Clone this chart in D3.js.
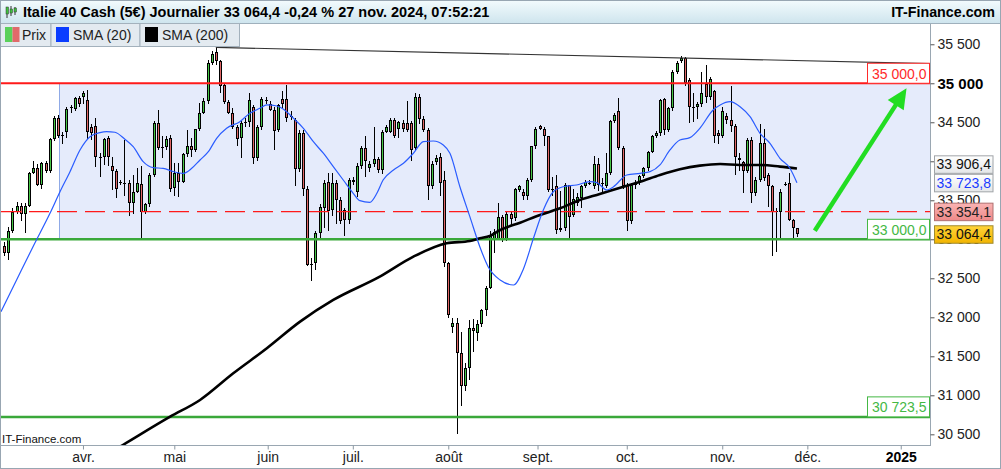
<!DOCTYPE html>
<html><head><meta charset="utf-8">
<script src="https://cdn.jsdelivr.net/npm/d3@7"></script>
<style>
html,body{margin:0;padding:0;background:#fff;}
svg{display:block;font-family:"Liberation Sans",Arial,sans-serif;}
</style></head><body>
<svg id="c" width="1001" height="469"></svg>
<script>
// ---------------- DATA ----------------
const startDate = '2024-03-05'; // first candle (weekday slots)
const opens = [
32920,32830,33100,33350,33430,33320,33430,33850,33910,33690,
33980,33870,34290,34560,34330,34370,34680,34670,34810,34830,
34780,34440,34450,34060,34050,34300,33940,33870,33730,33720,
33720,33460,33610,33710,33350,33450,33830,34490,34180,34180,
34300,33660,33850,33740,34090,34200,34140,34410,34620,34770,
35260,35400,35290,34980,34760,34620,34440,34300,34490,34500,
34700,34040,34440,34790,34730,34660,34400,34800,34800,34580,
34530,33900,34360,33640,32670,32700,33080,33400,33740,33380,
33720,33500,33370,33250,33740,33600,33940,34170,33910,33970,
34030,33890,34380,34380,34530,34410,34490,34490,34490,34170,
34830,34540,34400,33680,33990,34050,33760,32690,31880,31930,
31540,31120,31350,31860,31800,31920,32090,32380,33000,33000,
33290,33000,33330,33270,33630,33610,33550,33760,34190,34450,
34420,34320,33650,33680,33140,33140,33690,33310,33460,33530,
33680,33720,33680,33970,33720,33680,33850,34510,34640,34170,
33690,33230,33700,33720,33810,33910,34120,34320,34360,34800,
34400,34680,35150,35280,35320,35040,34700,34690,34740,34990,
34820,34900,34360,34320,34580,34530,34450,34040,33990,33880,
34270,33590,33760,34230,33820,33680,33360,33350,33700,33720,
33250,33140];
const highs = [
32970,33160,33400,33480,33470,33460,33860,34000,33960,33990,
34000,34300,34580,34590,34380,34700,34720,34830,34840,34900,
34920,34480,34550,34100,34300,34320,34060,33900,33760,34270,
33760,33830,33910,33940,33460,33850,34510,34660,34320,34330,
34340,33980,33980,34100,34400,34300,34420,34750,34810,35300,
35410,35460,35300,35000,34790,34680,34460,34510,34560,34870,
34720,34460,34830,34830,34770,34700,34740,34900,34980,34640,
34560,34400,34400,33680,32760,33100,33450,33760,33850,33850,
33760,33540,33400,33790,33800,33980,34200,34320,34000,34440,
34060,34400,34470,34560,34560,34520,34530,34770,34520,34870,
34860,34580,34430,34000,34080,34100,33880,32710,31990,31990,
31810,31410,31960,31980,31960,32110,32400,33100,33130,33460,
33310,33350,33360,33660,33700,33640,33780,34200,34440,34470,
34440,34330,33800,33820,33620,33720,33700,33640,33590,33690,
33760,33760,34070,34040,33790,34100,34530,34620,34810,34190,
33720,33720,33760,33830,33930,34130,34340,34390,34800,34810,
34700,35170,35290,35350,35340,35070,34870,34760,35150,35240,
35080,34920,34400,34690,34620,34960,34480,34100,34010,34300,
34310,33800,34480,34410,33850,33700,33400,33640,33740,33850,
33260,33150];
const lows = [
32780,32740,33080,33320,33240,33080,33420,33840,33680,33650,
33850,33850,34260,34300,34220,34300,34620,34650,34700,34740,
34290,34270,33930,33800,33950,33940,33630,33530,33690,33550,
33300,33330,33590,33000,33330,33420,33800,34150,34040,34150,
33600,33560,33540,33720,34060,34050,34120,34390,34600,34740,
35240,35230,34880,34740,34600,34420,34190,34040,34440,34440,
33970,34000,34400,34740,34640,34150,34380,34680,34500,34530,
33680,33860,33550,32660,32460,32600,33020,33150,33100,33300,
33200,33200,33040,33200,33700,33540,33900,33800,33860,33930,
33850,33840,34360,34360,34300,34300,34380,34380,34000,34150,
34480,34380,33500,33640,33950,33550,32650,31990,31800,30510,
30860,31050,31200,31560,31700,31880,32020,32360,32820,32990,
32960,32980,33180,33230,33600,33500,33500,33740,34160,34400,
34200,33600,33550,33070,33090,33100,32990,33280,33430,33400,
33660,33700,33650,33620,33600,33660,33830,34490,34150,33650,
33110,33200,33650,33700,33790,33880,34100,34300,34330,34340,
34380,34650,35120,35260,34970,34490,34500,34540,34700,34750,
34790,34240,34220,34300,34480,34380,33830,33880,33590,33850,
33460,33560,33740,33750,33420,32780,32840,33000,33680,33230,
33000,33030];
const closes = [
32830,33110,33350,33430,33320,33430,33850,33910,33690,33980,
33870,34290,34560,34320,34340,34670,34690,34810,34740,34880,
34380,34360,34050,34050,34290,34050,33870,33650,33720,33710,
33460,33610,33720,33350,33450,33830,34490,34170,34170,34280,
33650,33850,33740,34090,34200,34140,34410,34620,34770,35260,
35380,35290,34970,34760,34620,34440,34280,34490,34500,34790,
34040,34440,34800,34770,34660,34390,34720,34730,34560,34570,
33900,34360,33640,32670,32680,33080,33420,33720,33360,33720,
33500,33230,33250,33760,33760,33940,34170,34000,33970,34030,
33890,34380,34440,34530,34330,34500,34410,34400,34150,34830,
34540,34400,33680,33970,34040,33720,32690,32030,31930,31540,
31120,31350,31860,31820,31920,32090,32380,33060,33090,33290,
33000,33330,33260,33640,33680,33550,33760,34190,34420,34420,
34320,33630,33630,33120,33120,33690,33290,33520,33540,33680,
33740,33720,33970,33700,33720,33850,34510,34590,34170,33680,
33230,33690,33720,33810,33910,34120,34320,34360,34790,34400,
34680,35150,35260,35320,35000,34700,34690,34730,34880,34820,
35050,34320,34320,34640,34530,34450,34060,34020,33880,34270,
33590,33760,34230,33790,33680,33350,33350,33610,33710,33250,
33144,33064.4];

// SMA lines (slot position, value)
const sma20Slots  = [-0.75,3,6.96,11.05,13.46,15.87,18.28,20.69,23.1,24.7,26.7,29.1,31.1,33.5,35.9,38.3,40.8,43.2,45.2,47.2,49.2,51.2,53.6,56.8,59.2,61.6,63.3,65.7,67.3,69.7,72.1,74.5,76.9,79.3,81.7,84.1,85.7,88.1,89.8,91.3,93.8,96.2,98.6,101,103.4,105.8,107.4,109.8,112.2,114.6,116.6,119.5,122.7,125.1,127.5,129.9,132.3,134.7,137.9,141.1,142.8,145.2,146.8,150,153.2,155.6,158,160.4,162.8,165.2,167.6,170.8,172.5,174.9,177.3,179.7,182.1,184.5,186.9,189.3,191];
const sma20Values = [32072,32478,32905,33333,33610,33867,34145,34315,34367,34379,34372,34282,34187,33995,33918,33910,33867,33846,33910,34017,34123,34295,34423,34508,34615,34679,34722,34709,34667,34551,34423,34251,34103,33931,33760,33590,33495,33474,33590,33760,33888,33974,34103,34251,34260,34209,34103,33674,33290,32905,32649,32478,32414,32620,33010,33376,33610,33674,33696,33738,33726,33632,33674,33824,33846,33867,33953,34145,34273,34303,34423,34658,34722,34764,34700,34572,34359,34231,34038,33910,33723.8];
const sma200Slots  = [22,28.6,40,47.2,55.2,63.3,71.3,79.3,90.5,98.6,106.6,112.2,114.6,117,119.5,124.3,129.1,133.9,138.7,143.5,148.4,153.2,158,162.8,167.6,172.5,177.3,182.1,186.9,191];
const sma200Values = [30153,30363,30726,30940,31282,31603,31944,32222,32521,32777,32949,32978,33013,33042,33119,33213,33312,33397,33504,33581,33662,33738,33824,33897,33944,33965,33953,33953,33931,33906.4];

// Horizontal levels
const resistance = 35000.0, support = 33000.0, support2 = 30723.5, pivot = 33354.1;
// Trendline anchors (slot, price)
const trendSlots = [51, 163], trendValues = [35460, 35325];
// Zone start slot
const zoneStartSlot = 13.3;
// Arrow (slot, price)
const arrowFrom = [195.3, 33110], arrowTo = [217.4, 34936];

const yTicks = [30500,31000,31500,32000,32500,33000,33500,34000,34500,35000,35500];
const monthTickDates = ['2024-04-01','2024-05-01','2024-06-01','2024-07-01','2024-08-01','2024-09-01','2024-10-01','2024-11-01','2024-12-01','2025-01-01'];
const monthLabels = ['avr.','mai','juin','juil.','août','sept.','oct.','nov.','déc.','2025'];

const titleText = 'Italie 40 Cash (5€) Journalier 33 064,4 -0,24 % 27 nov. 2024, 07:52:21';
const lastPrice = 33064.4, sma20Last = 33723.8, sma200Last = 33906.4;

// ---------------- HELPERS ----------------
function slotOf(dstr){
  const d = new Date(dstr+'T00:00:00Z');
  const s = new Date(startDate+'T00:00:00Z');
  let n = 0;
  while (s < d){ const wd = s.getUTCDay(); if (wd!==0 && wd!==6) n++; s.setUTCDate(s.getUTCDate()+1); }
  const wd = d.getUTCDay();
  if (wd===0 || wd===6) n -= 0.5;
  return n;
}
function fmtInt(v){ return d3.format(',.0f')(v).replace(/,/g,' '); }
function fmt1(v){ const s = d3.format(',.1f')(v); return s.replace(/,/g,' ').replace('.',','); }

// ---------------- LAYOUT ----------------
const W=1001, H=469;
const pL=1, pR=930, pT=24, pB=445;
const x = d3.scaleLinear().domain([-0.75, 223.05]).range([pL, pR]);
const y = d3.scaleLinear().domain([30363, 35465]).range([pB, 47]);

const svg = d3.select('#c');
const defs = svg.append('defs');
defs.append('clipPath').attr('id','clip').append('rect').attr('x',pL).attr('y',pT).attr('width',pR-pL).attr('height',pB-pT);
function grad(id, c1, c2){
  const g = defs.append('linearGradient').attr('id',id).attr('x1',0).attr('y1',0).attr('x2',0).attr('y2',1);
  g.append('stop').attr('offset','0%').attr('stop-color',c1);
  g.append('stop').attr('offset','100%').attr('stop-color',c2);
}
grad('gTitle','#f3fbfd','#cfe5ee');
grad('gGray','#ffffff','#e4e6e8');
grad('gRed','#f9b4b4','#ee8888');
grad('gYel','#ffd43a','#f2b400');

svg.append('rect').attr('width',W).attr('height',H).attr('fill','#fff');

const plot = svg.append('g').attr('clip-path','url(#clip)');

// zone
plot.append('rect')
  .attr('x', x(zoneStartSlot)).attr('y', y(resistance))
  .attr('width', pR - x(zoneStartSlot)).attr('height', y(support)-y(resistance))
  .attr('fill','#e5ebfb');
plot.append('line').attr('x1',Math.round(x(zoneStartSlot))+0.5).attr('x2',Math.round(x(zoneStartSlot))+0.5)
  .attr('y1',y(resistance)).attr('y2',y(support)).attr('stroke','#8fa9e6').attr('stroke-width',1);

// candles
const cg = plot.append('g');
closes.forEach((c,i)=>{
  const o = opens[i], h = Math.max(highs[i],o,c), l = Math.min(lows[i],o,c);
  const cx = Math.round(x(i));
  cg.append('line').attr('x1',cx+0.5).attr('x2',cx+0.5).attr('y1',Math.round(y(h))).attr('y2',Math.round(y(l)))
    .attr('stroke','#000').attr('stroke-width',1);
  let top = Math.round(y(Math.max(o,c))), bot = Math.round(y(Math.min(o,c)));
  if (bot-top < 1) bot = top+1;
  cg.append('rect').attr('x',cx-1).attr('y',top).attr('width',3).attr('height',bot-top).attr('fill','#000');
  if (bot-top > 2){
    cg.append('rect').attr('x',cx).attr('y',top+1).attr('width',1).attr('height',bot-top-2)
      .attr('fill', c>=o ? '#46c646' : '#e06666');
  }
});

// horizontal levels
plot.append('line').attr('x1',pL).attr('x2',pR).attr('y1',y(resistance)).attr('y2',y(resistance)).attr('stroke','#ff1a1a').attr('stroke-width',2);
plot.append('line').attr('x1',pL).attr('x2',pR).attr('y1',y(support)).attr('y2',y(support)).attr('stroke','#3aa83a').attr('stroke-width',2.5);
plot.append('line').attr('x1',pL).attr('x2',pR).attr('y1',y(support2)).attr('y2',y(support2)).attr('stroke','#3aa83a').attr('stroke-width',2.5);
plot.append('line').attr('x1',pL).attr('x2',pR).attr('y1',y(pivot)).attr('y2',y(pivot)).attr('stroke','#ff1a1a').attr('stroke-width',1.3).attr('stroke-dasharray','20,8');

// SMA lines
const line = d3.line().x(d=>x(d[0])).y(d=>y(d[1])).curve(d3.curveMonotoneX);
plot.append('path').attr('d', line(sma200Slots.map((s,i)=>[s,sma200Values[i]])))
  .attr('fill','none').attr('stroke','#000').attr('stroke-width',2.6);
plot.append('path').attr('d', line(sma20Slots.map((s,i)=>[s,sma20Values[i]])))
  .attr('fill','none').attr('stroke','#2a5cff').attr('stroke-width',1.2);

// trendline
const tSlope = (trendValues[1]-trendValues[0])/(trendSlots[1]-trendSlots[0]);
const tEnd = x.domain()[1];
plot.append('line').attr('x1',x(trendSlots[0])).attr('y1',y(trendValues[0]))
  .attr('x2',x(tEnd)).attr('y2',y(trendValues[0]+tSlope*(tEnd-trendSlots[0])))
  .attr('stroke','#333').attr('stroke-width',1.2);

// level label boxes inside plot
function levelBox(v, color){
  const bx = 867.5, bw = 62, bh = 20, by = y(v) - bh;
  svg.append('rect').attr('x',bx).attr('y',by).attr('width',bw).attr('height',bh).attr('fill','#fff').attr('stroke',color).attr('stroke-width',1);
  svg.append('text').attr('x',bx+bw-3).attr('y',by+bh-4.5).attr('text-anchor','end').attr('font-size',14)
    .attr('fill',color).text(fmt1(v));
}
levelBox(resistance,'#ff2a2a');
levelBox(support,'#44b844');
levelBox(support2,'#44b844');

// arrow
{
  const x0=x(arrowFrom[0]), y0=y(arrowFrom[1]), x1=x(arrowTo[0]), y1=y(arrowTo[1]);
  const dx=x1-x0, dy=y1-y0, L=Math.hypot(dx,dy), ux=dx/L, uy=dy/L, px=-uy, py=ux;
  const hl=20, hw=9.5;
  const bx=x1-ux*hl, by=y1-uy*hl;
  svg.append('line').attr('x1',x0).attr('y1',y0).attr('x2',bx+ux*2).attr('y2',by+uy*2).attr('stroke','#22dd22').attr('stroke-width',4.5);
  svg.append('path').attr('d',`M${x1},${y1}L${bx+px*hw},${by+py*hw}L${bx-px*hw},${by-py*hw}Z`).attr('fill','#22dd22');
}

// frame & axes lines
svg.append('line').attr('x1',0).attr('x2',pR).attr('y1',pB+0.5).attr('y2',pB+0.5).attr('stroke','#9aa7b2');
svg.append('line').attr('x1',pR+0.5).attr('x2',pR+0.5).attr('y1',23).attr('y2',pB+1).attr('stroke','#9aa7b2');

// y axis
const yAxis = svg.append('g').attr('transform',`translate(${pR+0.5},0)`)
  .call(d3.axisRight(y).tickValues(yTicks).tickSize(4).tickPadding(3).tickFormat(fmtInt));
yAxis.select('.domain').remove();
yAxis.selectAll('.tick line').attr('stroke','#555');
yAxis.selectAll('.tick text').attr('font-size',14).attr('fill','#222').attr('font-family','"Liberation Sans",Arial,sans-serif')
  .attr('font-weight', d => d===35000 ? 'bold':'normal').attr('font-size', d => d===35000 ? 15 : 14)
  .attr('fill', d=> d===35000 ? '#000' : '#222');

// x axis
const xAxis = svg.append('g').attr('transform',`translate(0,${pB+0.5})`)
  .call(d3.axisBottom(x).tickValues(monthTickDates.map(slotOf)).tickSize(4).tickPadding(3)
    .tickFormat((d,i)=>monthLabels[i]));
xAxis.select('.domain').remove();
xAxis.selectAll('.tick line').attr('stroke','#8a96a0');
xAxis.selectAll('.tick text').attr('font-size',14).attr('fill','#222').attr('font-family','"Liberation Sans",Arial,sans-serif')
  .attr('font-weight',(d,i)=> monthLabels[i]==='2025'?'bold':'normal').attr('fill',(d,i)=> monthLabels[i]==='2025'?'#000':'#222');

// right value boxes
{
  const items = [
    {v:sma200Last, fill:'url(#gGray)', stroke:'#a0a4a8', color:'#111'},
    {v:sma20Last, fill:'url(#gGray)', stroke:'#a0a4a8', color:'#1a3cff'},
    {v:pivot, fill:'url(#gRed)', stroke:'#b07070', color:'#222'},
    {v:lastPrice, fill:'url(#gYel)', stroke:'#a08a30', color:'#111'}
  ];
  items.forEach(d=> d.cy = y(d.v));
  // collision avoidance from bottom up
  for (let i=items.length-2;i>=0;i--){
    if (items[i+1].cy - items[i].cy < 18.5) items[i].cy = items[i+1].cy - 18.5;
  }
  items.forEach(d=>{
    svg.append('rect').attr('x',934.5).attr('y',d.cy-8.5).attr('width',58.5).attr('height',17.5)
      .attr('fill',d.fill).attr('stroke',d.stroke).attr('stroke-width',1);
    svg.append('text').attr('x',991).attr('y',d.cy+5).attr('text-anchor','end').attr('font-size',14).attr('fill',d.color).text(fmt1(d.v));
  });
}

// watermark
svg.append('text').attr('x',2).attr('y',443).attr('font-size',11.5).attr('fill','#111').text('IT-Finance.com');

// title bar
svg.append('rect').attr('x',0).attr('y',0).attr('width',W).attr('height',23).attr('fill','url(#gTitle)');
svg.append('line').attr('x1',0).attr('x2',W).attr('y1',23.5).attr('y2',23.5).attr('stroke','#9fb0bc');
// icon
[[6,9,16,'#3cc23c',7,13],[10,6,14,'#3cc23c',9,12],[14,7,13,'#3cc23c',8,11]].forEach(c=>{
  svg.append('line').attr('x1',c[0]+1).attr('x2',c[0]+1).attr('y1',c[1]).attr('y2',c[2]+2).attr('stroke','#333');
  svg.append('rect').attr('x',c[0]).attr('y',c[4]).attr('width',2.5).attr('height',c[5]-c[4]+1).attr('fill',c[3]).attr('stroke','#333').attr('stroke-width',0.5);
});
const tt = svg.append('text').attr('x',23).attr('y',17).attr('font-size',14).attr('font-weight','bold').attr('fill','#000').text(titleText);
{ const len = tt.node().getComputedTextLength(); tt.attr('font-size', 14*467/len); }
const it = svg.append('text').attr('x',995).attr('y',17).attr('text-anchor','end').attr('font-size',14).attr('font-weight','bold').attr('fill','#000').text('IT-Finance.com');
{ const len = it.node().getComputedTextLength(); it.attr('font-size', 14*104/len); }

// legend row
const leg = [
  {x0:0.5, x1:51, label:'Prix', tx:22},
  {x0:51, x1:140, label:'SMA (20)', tx:73},
  {x0:140, x1:239.5, label:'SMA (200)', tx:162}
];
leg.forEach(l=>{
  svg.append('rect').attr('x',l.x0).attr('y',23.5).attr('width',l.x1-l.x0).attr('height',23).attr('fill','#e3eaf0').attr('stroke','#a3b1bc');
  svg.append('text').attr('x',l.tx).attr('y',40).attr('font-size',14).attr('fill','#222').text(l.label);
});
svg.append('rect').attr('x',5).attr('y',27).attr('width',7.5).attr('height',15).attr('fill','#5ad05a');
svg.append('rect').attr('x',12.5).attr('y',27).attr('width',7).attr('height',15).attr('fill','#e06a6a');
svg.append('rect').attr('x',56).attr('y',27).attr('width',13).attr('height',15).attr('fill','#0a3cff');
svg.append('rect').attr('x',145).attr('y',27).attr('width',13).attr('height',15).attr('fill','#000');

// outer frame
svg.append('rect').attr('x',0.5).attr('y',0.5).attr('width',W-1).attr('height',H-1).attr('fill','none').attr('stroke','#98a6b2');
</script>
</body></html>
